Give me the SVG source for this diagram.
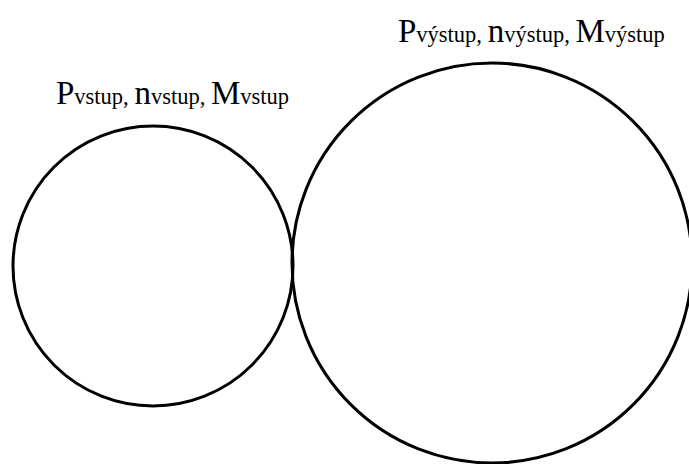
<svg xmlns="http://www.w3.org/2000/svg" width="689" height="464" viewBox="0 0 689 464">
<style>
.c{fill:none;stroke:#000;stroke-width:3}
.t{font-family:"Liberation Serif","Times New Roman",serif;fill:#000}
.b{font-size:33px}
.s{font-size:22.5px}
</style>
<rect width="689" height="464" fill="#fff"/>
<g id="input">
<circle class="c" cx="153" cy="266" r="140"/>
<text class="t" x="56" y="104"><tspan class="b">P</tspan><tspan class="s">vstup, </tspan><tspan class="b">n</tspan><tspan class="s">vstup, </tspan><tspan class="b">M</tspan><tspan class="s">vstup</tspan></text>
</g>
<g id="output">
<circle class="c" cx="492" cy="263" r="200"/>
<text class="t" x="398" y="42"><tspan class="b">P</tspan><tspan class="s">výstup, </tspan><tspan class="b">n</tspan><tspan class="s">výstup, </tspan><tspan class="b">M</tspan><tspan class="s">výstup</tspan></text>
</g>
<g id="connectors"/>
</svg>
